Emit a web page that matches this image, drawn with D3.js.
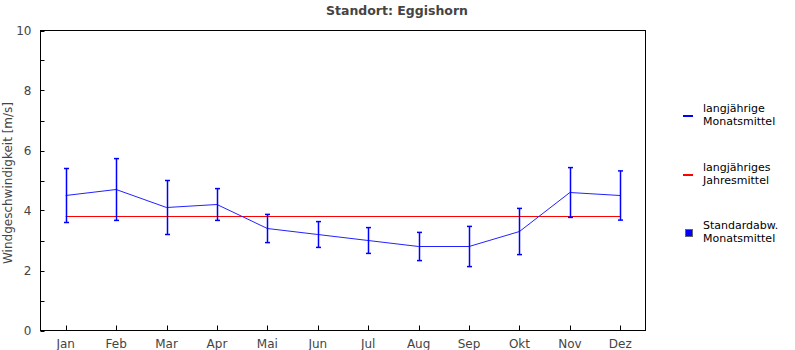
<!DOCTYPE html>
<html><head><meta charset="utf-8">
<script src="https://cdn.jsdelivr.net/npm/d3@7"></script>
<style>body{margin:0;background:#fff}svg{display:block;font-family:"DejaVu Sans",sans-serif}</style>
</head><body><svg id="c" width="795" height="350"></svg>
<script>
const months = ["Jan","Feb","Mar","Apr","Mai","Jun","Jul","Aug","Sep","Okt","Nov","Dez"];
const monthlyMean = [4.5,4.7,4.1,4.2,3.4,3.2,3.0,2.8,2.8,3.3,4.6,4.5];
const monthlySd = [0.9,1.03,0.9,0.53,0.47,0.43,0.43,0.47,0.67,0.77,0.83,0.82];
const annualMean = 3.8;
const yTicks = [0,2,4,6,8,10];
const yMinorTicks = [1,3,5,7,9];
const legendItems = [
  {label:["langjährige","Monatsmittel"], type:"line", color:"#0000ff"},
  {label:["langjähriges","Jahresmittel"], type:"line", color:"#ff0000"},
  {label:["Standardabw.","Monatsmittel"], type:"square", color:"#0000ff"}
];
const title = "Standort: Eggishorn";
const yLabel = "Windgeschwindigkeit [m/s]";

const svg = d3.select("#c");
const L=40.5, R=645.5, T=30.5, B=330.5;
const x = d3.scaleBand().domain(months).range([L,R]);
const xc = m => x(m)+x.bandwidth()/2;
const y = d3.scaleLinear().domain([0,10]).range([B,T]);

svg.append("text").attr("x",397).attr("y",15).attr("text-anchor","middle")
  .attr("font-weight","bold").attr("font-size","12.5px").attr("fill","#444").text(title);

// frame
svg.append("rect").attr("x",L).attr("y",T).attr("width",R-L).attr("height",B-T)
  .attr("fill","none").attr("stroke","#000").attr("stroke-width",1);

// y ticks
const yAxis = d3.axisLeft(y).tickValues(yTicks).tickSize(0).tickPadding(9);
const gy = svg.append("g").attr("transform",`translate(${L},0)`).call(yAxis);
gy.select(".domain").remove();
gy.selectAll("text").attr("font-size","12px").attr("fill","#444").attr("font-family","DejaVu Sans");
svg.append("g").selectAll("line").data(yTicks.concat(yMinorTicks)).join("line")
  .attr("x1",L).attr("x2",L+4).attr("y1",d=>Math.round(y(d))+0.5).attr("y2",d=>Math.round(y(d))+0.5)
  .attr("stroke","#000");

// x ticks
const xAxis = d3.axisBottom(x).tickSize(0).tickPadding(9);
const gx = svg.append("g").attr("transform",`translate(0,${B})`).call(xAxis);
gx.select(".domain").remove();
gx.selectAll("text").attr("font-size","12px").attr("fill","#444").attr("font-family","DejaVu Sans");
svg.append("g").selectAll("line").data(months).join("line")
  .attr("x1",d=>Math.round(xc(d))+0.5).attr("x2",d=>Math.round(xc(d))+0.5)
  .attr("y1",B).attr("y2",B-5).attr("stroke","#000");

// annual mean
svg.append("line").attr("x1",xc(months[0])).attr("x2",xc(months[11]))
  .attr("y1",y(annualMean)).attr("y2",y(annualMean)).attr("stroke","#ff0000").attr("stroke-width",1.2);

// monthly mean line
svg.append("path").datum(monthlyMean)
  .attr("d",d3.line().x((d,i)=>xc(months[i])).y(d=>y(d)))
  .attr("fill","none").attr("stroke","#2222ff").attr("stroke-width",1);

// error bars
const eb = svg.append("g").attr("stroke","#0000ff").attr("stroke-width",1.5);
months.forEach((m,i)=>{
  const cx = Math.round(xc(m))+0.5;
  const lo = y(monthlyMean[i]-monthlySd[i]), hi = y(monthlyMean[i]+monthlySd[i]);
  eb.append("line").attr("x1",cx).attr("x2",cx).attr("y1",lo).attr("y2",hi);
  eb.append("line").attr("x1",cx-2.5).attr("x2",cx+2.5).attr("y1",lo).attr("y2",lo);
  eb.append("line").attr("x1",cx-2.5).attr("x2",cx+2.5).attr("y1",hi).attr("y2",hi);
});

// y label
svg.append("text").attr("transform","translate(12,183) rotate(-90)").attr("text-anchor","middle")
  .attr("font-size","12px").attr("fill","#444").text(yLabel);

// legend
const legY = [116,175,233];
legendItems.forEach((it,i)=>{
  const cy = legY[i];
  if(it.type==="line"){
    svg.append("line").attr("x1",683).attr("x2",693).attr("y1",cy).attr("y2",cy)
      .attr("stroke",it.color).attr("stroke-width",2);
  } else {
    svg.append("rect").attr("x",685.5).attr("y",cy-3.5).attr("width",7).attr("height",7)
      .attr("fill",it.color).attr("stroke","#666").attr("stroke-width",1);
  }
  const t = svg.append("text").attr("x",703).attr("font-size","11px").attr("fill","#000");
  t.append("tspan").attr("x",703).attr("y",cy-4.5).text(it.label[0]);
  t.append("tspan").attr("x",703).attr("y",cy+8.5).text(it.label[1]);
});
</script></body></html>
